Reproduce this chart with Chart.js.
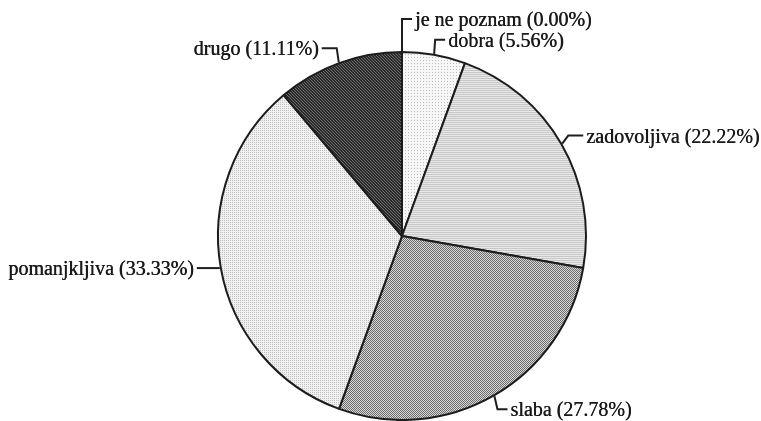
<!DOCTYPE html>
<html>
<head>
<meta charset="utf-8">
<script src="https://cdn.jsdelivr.net/npm/chart.js@4.4.0/dist/chart.umd.min.js"></script>
<style>
  html, body { margin: 0; padding: 0; background: #ffffff; }
  #wrap { width: 761px; height: 421px; position: relative; }
</style>
</head>
<body>
<div id="wrap"><canvas id="pie" width="761" height="421"></canvas></div>
<script>
// Answers, clockwise from twelve o'clock
const categories = ['je ne poznam', 'dobra', 'zadovoljiva', 'slaba', 'pomanjkljiva', 'drugo'];
const shares = [0.00, 5.56, 22.22, 27.78, 33.33, 11.11];

// Leader line for each label: bend offset from the rim point, then a horizontal run
const leaders = [
  { dx: 0,  dy: -32, run: 10 },
  { dx: 1,  dy: -14, run: 10 },
  { dx: 6,  dy: -8,  run: 15 },
  { dx: 3,  dy: 13,  run: 10 },
  { dx: 0,  dy: 0,   run: -23 },
  { dx: -2, dy: -14, run: -15 }
];

// Print-style halftone fills
function makePattern(size, paint) {
  const c = document.createElement('canvas');
  c.width = size; c.height = size;
  const g = c.getContext('2d');
  paint(g, size);
  return g.createPattern(c, 'repeat');
}
const ctx0 = document.getElementById('pie').getContext('2d');

const sparseDots = makePattern(3, (g) => {
  g.fillStyle = '#f6f6f6'; g.fillRect(0, 0, 3, 3);
  g.fillStyle = '#bdbdbd'; g.fillRect(0, 0, 1, 1);
});
const hLines = makePattern(2, (g) => {
  g.fillStyle = '#e8e8e8'; g.fillRect(0, 0, 2, 2);
  g.fillStyle = '#c8c8c8'; g.fillRect(0, 0, 2, 1);
});
const checker = makePattern(2, (g) => {
  g.fillStyle = '#d6d6d6'; g.fillRect(0, 0, 2, 2);
  g.fillStyle = '#6e6e6e'; g.fillRect(0, 0, 1, 1); g.fillRect(1, 1, 1, 1);
});
const fineDots = makePattern(2, (g) => {
  g.fillStyle = '#f0f0f0'; g.fillRect(0, 0, 2, 2);
  g.fillStyle = '#c2c2c2'; g.fillRect(0, 0, 1, 1);
});
const darkHatch = makePattern(3, (g) => {
  g.fillStyle = '#2b2b2b'; g.fillRect(0, 0, 3, 3);
  g.fillStyle = '#6c6c6c';
  for (let i = 0; i < 3; i++) g.fillRect(i, i, 1, 1);
});
const fills = [sparseDots, sparseDots, hLines, checker, fineDots, darkHatch];

// Draws "name (xx.xx%)" with a bracket-shaped leader to each slice
const sliceLabels = {
  id: 'sliceLabels',
  afterDatasetsDraw(chart) {
    const ctx = chart.ctx;
    const arcs = chart.getDatasetMeta(0).data;
    ctx.save();
    ctx.strokeStyle = '#1e1e1e';
    ctx.lineWidth = 2;
    ctx.fillStyle = '#1a1a1a';
    ctx.font = '20px "Liberation Serif"';
    ctx.textBaseline = 'middle';
    arcs.forEach((arc, i) => {
      const p = arc.getProps(['x', 'y', 'startAngle', 'endAngle', 'outerRadius'], true);
      const mid = (p.startAngle + p.endAngle) / 2;
      const ax = p.x + Math.cos(mid) * (p.outerRadius + 1);
      const ay = p.y + Math.sin(mid) * (p.outerRadius + 1);
      const L = leaders[i];
      const bx = ax + L.dx, by = ay + L.dy;
      const ex = bx + L.run;
      ctx.beginPath();
      ctx.moveTo(ax, ay);
      ctx.lineTo(bx, by);
      ctx.lineTo(ex, by);
      ctx.stroke();
      const text = categories[i] + ' (' + shares[i].toFixed(2) + '%)';
      const tx = L.run >= 0 ? ex + 3 : ex - 3;
      ctx.textAlign = L.run >= 0 ? 'left' : 'right';
      // printed ink is a little heavy: lay the glyphs down twice, slightly offset
      ctx.fillText(text, tx, by + 2);
      ctx.fillText(text, tx + 0.4, by + 2);
    });
    ctx.restore();
  }
};

new Chart(ctx0, {
  type: 'pie',
  data: {
    labels: categories,
    datasets: [{
      data: shares,
      backgroundColor: fills,
      borderColor: '#1c1c1c',
      borderWidth: 2,
      borderAlign: 'center'
    }]
  },
  options: {
    responsive: false,
    animation: false,
    radius: 184,
    layout: { padding: { left: 217, right: 174, top: 51, bottom: 0 } },
    plugins: {
      legend: { display: false },
      tooltip: { enabled: false }
    }
  },
  plugins: [sliceLabels]
});
</script>
</body>
</html>
